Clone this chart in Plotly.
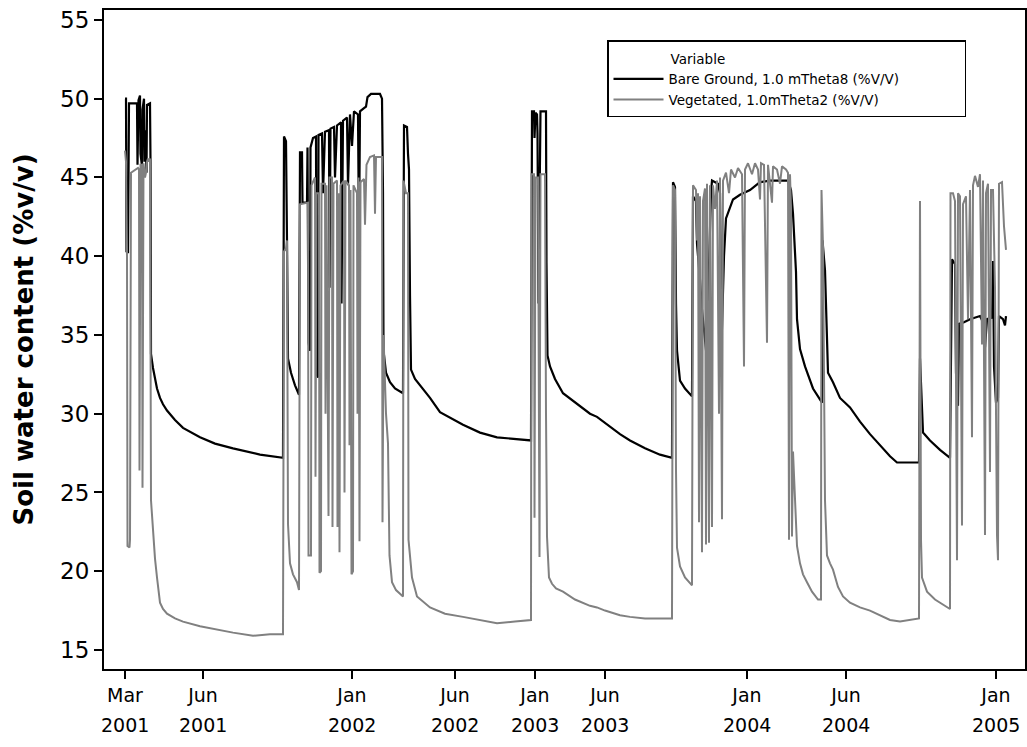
import plotly.graph_objects as go

# ---------------- data (record number vs soil water content) ----------------
bare_rec = [125, 126, 126.5, 128, 129, 137, 137.5, 138.5, 140, 140.5, 142, 142.5, 144, 144.5, 145.5, 146.5, 147, 150, 150.5, 151,
            153, 155, 157, 160, 163, 167, 175, 183, 200, 215, 233, 260, 283,
            284, 286, 287, 288, 291, 295, 299, 300, 302, 302.5, 307, 307.5, 308.5, 310, 310.5, 313, 316, 316.5, 318, 318.5, 322,
            323, 325, 329, 329.5, 330.5, 334, 335, 337, 341, 341.5, 343, 347, 348, 350, 352, 354, 358, 359, 360, 364, 366, 367.5,
            371, 380, 382, 383, 383.5, 386, 390, 395, 403, 404, 407, 408, 409, 410, 411, 415, 420, 430, 440, 463, 480, 497, 531,
            532, 534, 534.5, 535.5, 537, 537.5, 538.5, 540.5, 546, 546.5, 547.5, 550, 555, 563, 575, 590, 597, 605, 620, 630, 645,
            660, 672,
            673, 675, 676, 677, 680, 685, 692, 693, 696, 697, 700, 702, 707, 708, 711, 712, 718, 720, 721.5, 724, 726, 733, 740,
            750, 760, 770, 788, 791, 793, 796, 797, 800, 805, 813, 822, 822.5, 825, 827, 828, 833, 840, 850, 860, 870, 877, 890,
            897, 919, 920, 922, 923, 930, 940, 950,
            952, 955, 956, 958, 959, 964, 970, 980, 983, 985, 987, 992, 993, 994, 996, 998, 999, 1003, 1005, 1006]
bare_val = [50.0, 50.0, 40.3, 40.2, 49.7, 49.7, 45.8, 49.9, 50.2, 46.5, 45.7, 49.3, 50.0, 46.0, 48.0, 45.3, 49.6, 49.7, 46.0, 33.8,
            32.9, 32.3, 31.6, 31.0, 30.6, 30.2, 29.6, 29.1, 28.5, 28.1, 27.8, 27.4, 27.2,
            47.6, 47.3, 41.0, 33.5, 32.6, 31.8, 31.2, 46.6, 46.6, 43.4, 43.4, 46.9, 34.5, 34.0, 46.9, 47.5, 47.6, 32.5, 32.3, 47.7, 47.8,
            44.0, 47.9, 48.0, 38.0, 48.1, 48.2, 45.0, 48.3, 48.5, 37.0, 48.6, 48.8, 44.5, 49.0, 47.0, 49.2, 49.0, 41.0, 49.2, 49.4, 49.5, 50.1,
            50.3, 50.3, 50.0, 44.0, 34.0, 32.6, 32.0, 31.6, 31.3, 48.3, 48.2, 46.5, 45.5, 37.5, 32.8, 32.2, 31.8, 31.0, 30.1, 29.3, 28.8, 28.5, 28.3,
            49.2, 49.2, 47.5, 49.1, 49.0, 47.8, 37.0, 49.2, 49.2, 39.6, 33.7, 33.0, 32.2, 31.3, 30.7, 30.0, 29.8, 29.4, 28.7, 28.3, 27.8,
            27.4, 27.2,
            44.7, 44.4, 37.0, 34.0, 32.1, 31.6, 31.1, 43.8, 43.5, 40.8, 38.5, 36.6, 33.4, 37.0, 44.0, 44.8, 44.6, 44.0, 34.4, 40.0, 42.4, 43.6, 43.9,
            44.2, 44.7, 44.8, 44.8, 44.2, 42.7, 39.0, 36.0, 34.1, 33.0, 31.6, 30.7, 41.0, 39.1, 34.0, 32.6, 32.0, 31.0, 30.4, 29.5, 28.7, 28.2, 27.3,
            26.9, 26.9, 33.5, 29.5, 28.8, 28.3, 27.7, 27.2,
            39.8, 39.5, 32.6, 30.5, 35.7, 35.8, 36.0, 36.2, 35.8, 34.2, 36.0, 36.1, 39.7, 33.0, 30.7, 31.0, 36.2, 36.0, 35.6, 36.2]

veg_rec = [125, 126, 127, 127.5, 129.5, 130, 131, 133, 138, 139, 139.5, 140.5, 142, 142.5, 143.5, 145, 146, 147, 148, 149, 150, 151,
           153, 155, 157, 160, 163, 167, 175, 183, 200, 215, 233, 253, 270, 283,
           284, 286, 287, 288, 290, 293, 297, 299, 300, 308, 308.5, 311, 311.5, 315, 315.5, 316.5, 319, 319.5, 321, 321.5, 325,
           325.5, 326.5, 328.5, 329.5, 332, 332.5, 333.5, 337, 337.5, 338.5, 339.5, 340.5, 344, 344.5, 345.5, 349, 349.5, 350.5,
           351.5, 353, 353.5, 357, 357.5, 358.5, 359.5, 360.5, 364, 365, 366.5, 370, 374, 375, 376, 382, 382.5, 383.5, 386, 388,
           389.5, 392, 396, 403, 403.5, 406, 408, 408.5, 412, 417, 430, 445, 463, 480, 497, 515, 531,
           531.5, 534, 534.5, 535.5, 538, 538.5, 539.5, 540.5, 545, 546, 547, 549, 552, 556, 563, 575, 590, 597, 605, 620, 630, 645,
           660, 672,
           673, 675, 676, 677, 680, 685, 692, 693, 696, 697, 698, 699, 700, 702, 703, 705, 706, 707, 709, 710, 712, 713, 715, 717,
           719, 720, 722, 723, 726, 729, 731, 735, 738, 742, 744, 745, 748, 752, 755, 758, 760, 761, 764, 767, 768, 772, 773, 777,
           780, 782, 786, 788, 789, 790, 791, 792, 793, 795, 797, 800, 803, 807, 812, 818, 821, 821.5, 823, 825, 827, 830, 833, 838,
           843, 850, 860, 870, 877, 890, 900, 910, 919, 920, 921, 922, 927, 935, 940, 950,
           950.5, 953, 955, 957, 958, 960, 962, 963, 966, 968, 970, 972, 973, 975, 978, 980, 982, 983, 985, 986, 988, 990, 991, 993,
           995, 997, 998, 999, 1002, 1004, 1006]
veg_val = [46.7, 46.0, 40.0, 21.6, 21.5, 22.0, 45.3, 45.4, 45.6, 45.5, 26.4, 45.8, 45.8, 25.3, 45.9, 45.0, 45.3, 46.0, 46.2, 46.0, 46.2, 24.5,
           22.6, 20.8, 19.6, 18.0, 17.6, 17.3, 17.0, 16.8, 16.5, 16.3, 16.1, 15.9, 16.0, 16.0,
           40.3, 40.5, 41.0, 23.0, 20.5, 19.8, 19.3, 18.8, 43.3, 43.4, 21.0, 21.0, 44.5, 45.0, 26.0, 44.0, 44.0, 19.9, 20.0, 44.6, 44.6,
           30.0, 44.5, 23.5, 45.0, 45.0, 22.8, 44.6, 44.8, 22.8, 44.0, 21.2, 44.5, 44.8, 25.0, 44.8, 44.5, 28.0, 44.2,
           19.8, 20.0, 44.5, 44.0, 30.0, 45.0, 21.9, 44.7, 44.9, 42.0, 45.8, 46.3, 46.4, 42.7, 46.3, 46.3, 23.1, 35.0, 30.0, 28.1,
           21.0, 19.3, 18.8, 18.4, 44.8, 44.0, 44.0, 22.0, 19.6, 18.4, 17.7, 17.3, 17.1, 16.9, 16.7, 16.8, 16.9,
           45.2, 45.2, 23.4, 45.0, 45.0, 35.0, 20.9, 45.2, 45.2, 30.0, 22.2, 19.6, 19.2, 18.9, 18.7, 18.2, 17.8, 17.7, 17.5, 17.2, 17.1, 17.0,
           17.0, 17.0,
           44.5, 44.2, 26.4, 21.5, 20.3, 19.6, 19.1, 44.5, 44.2, 41.0, 44.0, 23.1, 43.8, 21.2, 43.5, 44.3, 21.7, 44.6, 21.8, 44.5, 22.8, 44.5, 43.0, 44.8,
           30.0, 45.0, 23.3, 44.8, 45.3, 44.0, 45.5, 45.0, 45.6, 45.2, 33.0, 45.5, 45.9, 45.2, 45.9, 45.5, 43.6, 45.9, 45.8, 34.5, 45.8, 43.4, 45.7, 45.5,
           44.6, 45.7, 45.5, 45.3, 22.0, 45.2, 43.0, 22.2, 27.6, 24.3, 21.6, 20.5, 19.8, 19.3, 18.7, 18.2, 18.2, 44.2, 40.6, 24.5, 21.0, 20.5, 20.1, 19.0,
           18.4, 18.0, 17.7, 17.5, 17.3, 16.9, 16.8, 16.9, 17.0, 43.5, 22.0, 19.6, 18.7, 18.2, 18.0, 17.6,
           44.0, 44.0, 43.5, 20.7, 44.0, 43.8, 22.9, 43.3, 43.8, 36.0, 44.2, 28.5, 44.5, 45.1, 44.4, 45.2, 34.4, 44.8, 22.3, 44.0, 44.6, 26.3, 44.2, 44.2,
           38.0, 22.3, 20.7, 44.6, 44.7, 41.9, 40.4]

tick_rec = [125, 203, 352, 455, 535, 605, 747, 846, 996]
tick_month = ["Mar", "Jun", "Jan", "Jun", "Jan", "Jun", "Jan", "Jun", "Jan"]
tick_year = ["2001", "2001", "2002", "2002", "2003", "2003", "2004", "2004", "2005"]

series_names = ["Bare Ground, 1.0 mTheta8 (%V/V)", "Vegetated, 1.0mTheta2 (%V/V)"]
legend_title = "Variable"
y_title = "Soil water content (%v/v)"

# ---------------- figure ----------------
FONT = "DejaVu Sans"
NB = "\u00a0"

fig = go.Figure()
fig.add_trace(go.Scatter(x=bare_rec, y=bare_val, mode="lines", name=series_names[0] + NB * 14,
                         line=dict(color="#000000", width=2.2)))
fig.add_trace(go.Scatter(x=veg_rec, y=veg_val, mode="lines", name=series_names[1],
                         line=dict(color="#808080", width=2)))

annotations = [dict(text=y_title, textangle=-90, xref="paper", yref="paper", x=-0.0869, y=0.5,
                    xanchor="center", yanchor="middle", showarrow=False,
                    font=dict(family=FONT, size=26, color="#000000", weight="bold"))]
for r, yr in zip(tick_rec, tick_year):
    annotations.append(dict(text=yr, xref="x", yref="paper", x=r, y=0, yanchor="top", xanchor="center",
                            yshift=-43, showarrow=False, font=dict(family=FONT, size=19, color="#000000")))

fig.update_layout(
    width=1027, height=747,
    margin=dict(l=104, r=2, t=10, b=78, autoexpand=False),
    paper_bgcolor="white", plot_bgcolor="white",
    font=dict(family=FONT, color="#000000"),
    showlegend=True,
    legend=dict(x=(607 - 104) / 921, y=(669 - 40) / 659, xanchor="left", yanchor="top",
                bordercolor="#000000", borderwidth=1.5, bgcolor="white",
                font=dict(family=FONT, size=13.5, color="#000000"),
                title=dict(text='<span style="font-size:13.5px">' + NB * 14 + legend_title + "</span>",
                           side="top", font=dict(family=FONT, size=17, color="#000000")),
                itemwidth=50, tracegroupgap=0),
    annotations=annotations,
)
fig.update_xaxes(range=[104, 1025], tickmode="array", tickvals=tick_rec, ticktext=tick_month,
                 ticks="outside", ticklen=8, tickwidth=2, tickcolor="#000000",
                 showline=True, linecolor="#000000", linewidth=2, mirror=True,
                 showgrid=False, zeroline=False, tickfont=dict(family=FONT, size=19, color="#000000"))
fig.update_yaxes(range=[13.79, 55.63], tickmode="array", tickvals=[15, 20, 25, 30, 35, 40, 45, 50, 55],
                 ticks="outside", ticklen=8, tickwidth=2, tickcolor="#000000",
                 showline=True, linecolor="#000000", linewidth=2, mirror=True,
                 showgrid=False, zeroline=False, tickfont=dict(family=FONT, size=23, color="#000000"))

fig.write_html("out.html")
